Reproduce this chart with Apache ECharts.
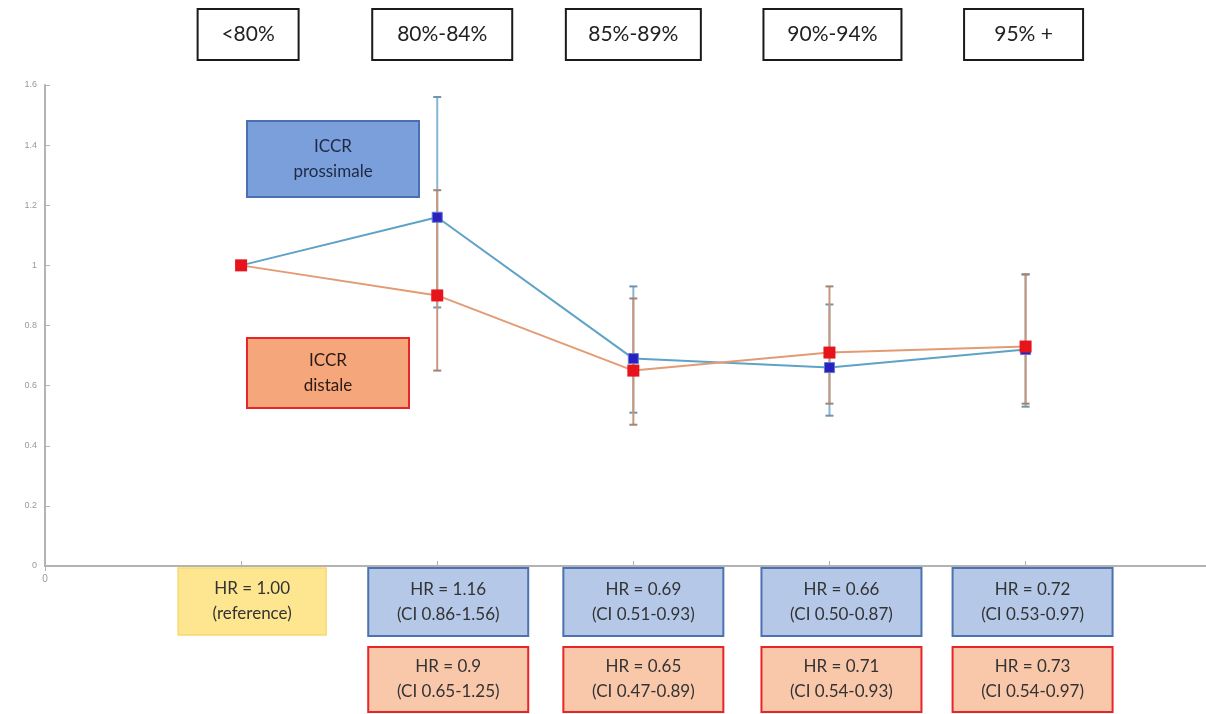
<!DOCTYPE html>
<html>
<head>
<meta charset="utf-8">
<script src="https://cdn.jsdelivr.net/npm/echarts@6/dist/echarts.min.js"></script>
<style>
  html, body { margin: 0; padding: 0; background: #ffffff; }
  #chart { width: 1206px; height: 714px; }
</style>
</head>
<body>
<div id="chart"></div>
<script>
// Adherence classes (x positions 1..5)
const categories = ['<80%', '80%-84%', '85%-89%', '90%-94%', '95% +'];

// ICCR prossimale: hazard ratios with 95% CI
const proxHRText = ['1.00', '1.16', '0.69', '0.66', '0.72'];
const proxLo = [null, 0.86, 0.51, 0.50, 0.53];
const proxHi = [null, 1.56, 0.93, 0.87, 0.97];

// ICCR distale: hazard ratios with 95% CI
const distHRText = ['1.00', '0.9', '0.65', '0.71', '0.73'];
const distLo = [null, 0.65, 0.47, 0.54, 0.54];
const distHi = [null, 1.25, 0.89, 0.93, 0.97];

// Y axis ticks
const yTicks = [0, 0.2, 0.4, 0.6, 0.8, 1, 1.2, 1.4, 1.6];

const proxHR = proxHRText.map(Number);
const distHR = distHRText.map(Number);

// visible x range: the frame runs a little short of x = 6
const xMax = 5.92;

const chart = echarts.init(document.getElementById('chart'), null, { renderer: 'canvas' });

function pointData(values) {
  return values.map((v, i) => [i + 1, v]);
}
function errData(lo, hi) {
  return lo.map((l, i) => [i + 1, l, hi[i]]).filter(d => d[1] != null);
}
function errorSeries(name, lo, hi, barColor, capColor) {
  return {
    type: 'custom',
    name: name,
    z: 1,
    data: errData(lo, hi),
    encode: { x: 0, y: [1, 2] },
    renderItem: function (params, api) {
      const x = api.value(0);
      const pLo = api.coord([x, api.value(1)]);
      const pHi = api.coord([x, api.value(2)]);
      const hw = 4;
      return {
        type: 'group',
        children: [
          { type: 'line', shape: { x1: pLo[0], y1: pLo[1], x2: pHi[0], y2: pHi[1] },
            style: { stroke: barColor, lineWidth: 2 } },
          { type: 'line', shape: { x1: pLo[0] - hw, y1: pLo[1], x2: pLo[0] + hw, y2: pLo[1] },
            style: { stroke: capColor, lineWidth: 2 } },
          { type: 'line', shape: { x1: pHi[0] - hw, y1: pHi[1], x2: pHi[0] + hw, y2: pHi[1] },
            style: { stroke: capColor, lineWidth: 2 } }
        ]
      };
    }
  };
}

const frameColor = '#b3b3b3';

chart.setOption({
  animation: false,
  backgroundColor: '#ffffff',
  grid: { left: 45, right: 0, top: 85, bottom: 148 },
  xAxis: [
    {
      type: 'value', min: 0, max: xMax, interval: 1, position: 'bottom',
      axisLine: { show: true, onZero: false, lineStyle: { color: frameColor, width: 2 } },
      axisTick: { show: true, inside: true, length: 5, lineStyle: { color: frameColor, width: 1 } },
      axisLabel: { show: true, color: '#9a9a9a', fontSize: 10, margin: 8, showMaxLabel: false,
        formatter: v => (v === 0 ? '0' : '') },
      splitLine: { show: false }
    },
    {
      type: 'value', min: 0, max: xMax, interval: 1, position: 'top',
      axisLine: { show: true, lineStyle: { color: frameColor, width: 2 } },
      axisTick: { show: true, inside: true, length: 5, lineStyle: { color: frameColor, width: 1 } },
      axisLabel: { show: false },
      splitLine: { show: false }
    }
  ],
  yAxis: {
    type: 'value', min: yTicks[0], max: yTicks[yTicks.length - 1], interval: 0.2,
    axisLine: { show: true, onZero: false, lineStyle: { color: frameColor, width: 2 } },
    axisTick: { show: true, inside: true, length: 5, lineStyle: { color: frameColor, width: 1 } },
    axisLabel: { color: '#999999', fontSize: 9, margin: 8,
      formatter: v => String(Math.round(v * 10) / 10) },
    splitLine: { show: false }
  },
  series: [
    errorSeries('ICCR prossimale CI', proxLo, proxHi, '#86b6d3', '#6f94ad'),
    errorSeries('ICCR distale CI', distLo, distHi, '#c9977b', '#a08478'),
    {
      type: 'line', name: 'ICCR prossimale', z: 3,
      data: pointData(proxHR),
      symbol: 'rect', symbolSize: 10,
      lineStyle: { color: '#5ea2c6', width: 2 },
      itemStyle: { color: '#2a20c2', borderColor: '#5a7bd0', borderWidth: 1 }
    },
    {
      type: 'line', name: 'ICCR distale', z: 4,
      data: pointData(distHR),
      symbol: 'rect', symbolSize: 12,
      lineStyle: { color: '#e39b74', width: 2 },
      itemStyle: { color: '#e8141c' }
    }
  ]
});

// Annotation boxes placed from the axis scale
function px(x, y) { return chart.convertToPixel({ gridIndex: 0 }, [x, y]); }

function box(cx, y, w, h, fill, stroke, lw, lines, fontSize, color, fontFamily) {
  return {
    type: 'group',
    children: [
      { type: 'rect', shape: { x: cx - w / 2, y: y, width: w, height: h },
        style: { fill: fill, stroke: stroke, lineWidth: lw }, z: 10 },
      { type: 'text', x: cx, y: y + h / 2, z: 11,
        style: { text: lines.join('\n'), textAlign: 'center', textVerticalAlign: 'middle',
          font: fontSize + 'px ' + fontFamily, lineHeight: Math.round(fontSize * 1.45), fill: color } }
    ]
  };
}

const graphics = [];
// header box widths and small horizontal nudges, per class
const topW = [101, 140, 135, 138, 119];
const topShift = [7, 5, 0, 3, -2];
const hrShift = [11, 11, 10, 12, 7];
const bodyFont = 'Lato, "Open Sans", sans-serif';

categories.forEach((c, i) => {
  const cx = px(i + 1, 0)[0];
  // class header
  graphics.push(box(cx + topShift[i], 9, topW[i], 51, '#ffffff', '#1a1a1a', 2, [c], 21, '#222222', bodyFont));
  // hazard ratio boxes
  const bx = cx + hrShift[i];
  if (i === 0) {
    graphics.push(box(bx, 568, 148, 67, '#fde68f', '#f7d96f', 1.5,
      ['HR = ' + proxHRText[i], '(reference)'], 17, '#333333', bodyFont));
  } else {
    graphics.push(box(bx, 568, 160, 68, '#b5c8e8', '#4c72b0', 2,
      ['HR = ' + proxHRText[i], '(CI ' + proxLo[i].toFixed(2) + '-' + proxHi[i].toFixed(2) + ')'],
      17, '#333333', bodyFont));
    graphics.push(box(bx, 647, 160, 65, '#f9c7a9', '#e8262a', 2,
      ['HR = ' + distHRText[i], '(CI ' + distLo[i].toFixed(2) + '-' + distHi[i].toFixed(2) + ')'],
      17, '#333333', bodyFont));
  }
});

// series legend boxes
graphics.push(box(333, 121, 172, 76, '#7b9fda', '#4a6fb2', 2, ['ICCR', 'prossimale'], 17, '#1e2a44', bodyFont));
graphics.push(box(328, 338, 162, 70, '#f5a67b', '#e8262a', 2, ['ICCR', 'distale'], 17, '#2a1a14', bodyFont));

chart.setOption({ graphic: graphics });
</script>
</body>
</html>
